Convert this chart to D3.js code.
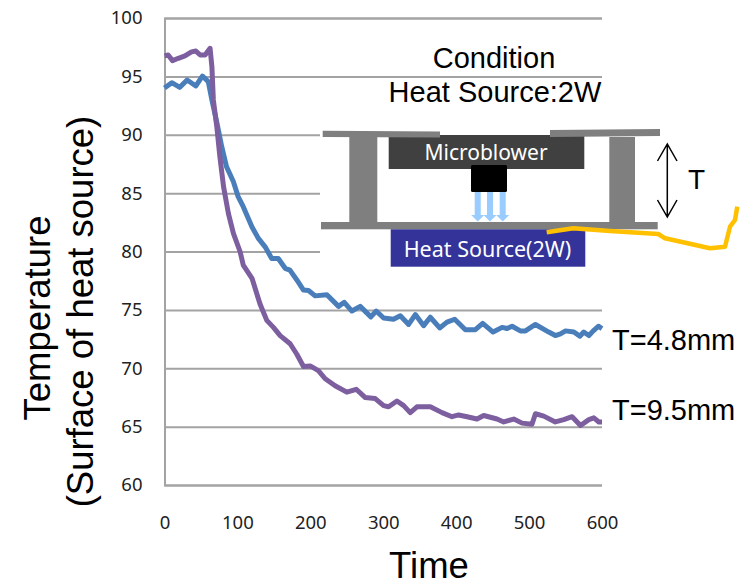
<!DOCTYPE html>
<html><head><meta charset="utf-8">
<script src="https://cdn.jsdelivr.net/npm/d3@7"></script>
<style>html,body{margin:0;background:#fff}svg{display:block}</style></head>
<body><svg id="c" width="753" height="582"></svg>
<script>
const xTicks=[0,100,200,300,400,500,600];
const yTicks=[60,65,70,75,80,85,90,95,100];
const seriesNames=["T=4.8mm","T=9.5mm"];
const blueT=[0,10,21,31,43,52,60,65,72,78.5,85,94.5,101,108,120,129,138,147,156,165.5,172,181.5,190.6,197.5,206.6,222.7,238.7,246.5,257,268.4,283,290.4,300.5,314,323.4,334.8,344,355.4,364.5,377.4,387.4,398,412.6,426.3,436.4,450.6,463,469.8,476.7,488,495,508.7,527,536,543,550,561.4,569.6,575,582,588,595,600];
const blueV=[94,94.46,94.06,94.69,94.18,95.03,94.55,92.98,90.98,88.98,87.27,85.98,84.7,83.84,82.1,81.1,80.4,79.4,79.4,78.56,78.4,77.56,76.7,76.66,76.2,76.3,75.3,75.65,74.9,75.3,74.4,74.9,74.3,74.2,74.5,73.75,74.6,73.65,74.37,73.45,73.95,74.2,73.3,73.3,73.85,73.1,73.5,73.4,73.6,73.2,73.2,73.75,73.1,72.8,72.95,73.2,73.1,72.75,73.1,72.8,73.2,73.6,73.4];
const purpleT=[0,5,11,19,28,37,43,49,55.6,62.5,65,67,71.7,76,81,87.6,94.5,103.7,108,120,131,140.3,149.4,158.6,172.3,181.5,190.6,199.8,211,220.4,234,250,263,275,289,300.5,307.3,318.8,328,337,346.2,364.6,380.6,394.3,403.4,415,428.6,437.8,456,465.2,479,490.4,504,508.7,520.2,536,547.6,559,570.5,582,588.8,595.7,600];
const purpleV=[96.75,96.83,96.35,96.55,96.75,97.1,97.17,96.83,96.83,97.4,95.83,92.98,90.7,88.1,85.55,83.27,81.56,79.98,78.84,77.7,75.5,74.1,73.5,72.8,72.1,71.2,70.15,70.2,69.8,69.1,68.5,67.95,68.2,67.5,67.4,66.8,66.7,67.2,66.8,66.2,66.7,66.7,66.2,65.85,66,65.85,65.65,65.95,65.65,65.4,65.65,65.3,65.2,66.1,65.9,65.4,65.6,65.85,65.1,65.6,65.75,65.4,65.4];

const svg=d3.select("#c");
const x=d3.scaleLinear().domain([0,600]).range([164.5,602]);
const y=d3.scaleLinear().domain([60,100]).range([485,18]);
const GRID="#a3a3a3",SANS="'Liberation Sans',Arial,sans-serif",TICK="'Noto Sans',sans-serif";

const gy=svg.append("g").attr("transform","translate(164.5,0)")
  .call(d3.axisLeft(y).tickValues(yTicks).tickSize(-(x.range()[1]-x.range()[0])).tickPadding(22));
gy.select(".domain").attr("stroke",GRID).attr("stroke-width",2);
gy.selectAll("line").attr("stroke",GRID).attr("stroke-width",2);
gy.selectAll("text").attr("font-family",TICK).attr("font-size",18.5).attr("fill","#222");
const gx=svg.append("g").attr("transform","translate(0,485)")
  .call(d3.axisBottom(x).tickValues(xTicks).tickSize(0).tickPadding(31));
gx.select(".domain").remove();
gx.selectAll("text").attr("font-family",TICK).attr("font-size",18.5).attr("fill","#222");

const line=d3.line().x(d=>x(d[0])).y(d=>y(d[1]));
svg.append("path").attr("d",line(d3.zip(blueT,blueV))).attr("fill","none").attr("stroke","#4a7ebb").attr("stroke-width",5).attr("stroke-linejoin","round");
svg.append("path").attr("d",line(d3.zip(purpleT,purpleV))).attr("fill","none").attr("stroke","#7d5fa0").attr("stroke-width",5).attr("stroke-linejoin","round");

const d=svg.append("g");
d.append("rect").attr("x",320).attr("y",110).attr("width",345).attr("height",160).attr("fill","#fff");
const gray="#7f7f7f";
[[349.3,137,28,85],[609.3,137,25.7,85]].forEach(r=>d.append("rect").attr("x",r[0]).attr("y",r[1]).attr("width",r[2]).attr("height",r[3]).attr("fill",gray));
d.append("rect").attr("x",388.7).attr("y",135).attr("width",195.6).attr("height",34).attr("fill","#404040");
d.append("rect").attr("x",471).attr("y",165).attr("width",36).attr("height",27).attr("rx",1.5).attr("fill","#000");
d.append("path").attr("fill",gray).attr("d","M322.7,130.7L440,131.5V137.5L322.7,137Z");
d.append("path").attr("fill",gray).attr("d","M550,130L660,129V136L550,137Z");
d.append("rect").attr("x",321).attr("y",222).attr("width",336.7).attr("height",7.3).attr("fill",gray);
d.append("rect").attr("x",390.7).attr("y",229.3).attr("width",194.6).attr("height",37.4).attr("fill","#333399");
[477.7,490,502.7].forEach(c=>d.append("path").attr("fill","#99ccff").attr("d",`M${c-3},192H${c+3}V215H${c+6.5}L${c},221.5L${c-6.5},215H${c-3}Z`));
d.append("path").attr("fill","none").attr("stroke","#000").attr("stroke-width",1.5).attr("d","M667.3,144V217M657.5,161L667.3,144L677,161M657.5,200L667.3,217L677,200");
d.append("path").attr("fill","none").attr("stroke","#ffc000").attr("stroke-width",4.5).attr("stroke-linejoin","round")
 .attr("d","M546.7,232.3L573.3,228.3L610,231L658.3,234L665,238.3L710,248.3L725,246.7L730,226.7L735,220L737.3,206.7");

const t=(s,px,py,size,o={})=>svg.append("text").text(s).attr("x",px).attr("y",py).attr("font-size",size)
  .attr("font-family",o.f||SANS).attr("fill",o.c||"#000").attr("text-anchor",o.a||"middle").attr("transform",o.r?`rotate(-90 ${px} ${py})`:null);
t("Microblower",486,160,21,{f:TICK,c:"#fff"});
t("Heat Source(2W)",487.5,257,21.5,{f:TICK,c:"#fff"});
t("T",696.5,189,28);
t("Condition",494,68,29);
t("Heat Source:2W",495,102,29);
t(seriesNames[0],612,350,29,{a:"start"});
t(seriesNames[1],612,420,29,{a:"start"});
t("Time",429,578,36.5);
t("Temperature",50,318,36.5,{r:1});
t("(Surface of heat source)",93,311.5,36.5,{r:1});
</script></body></html>
